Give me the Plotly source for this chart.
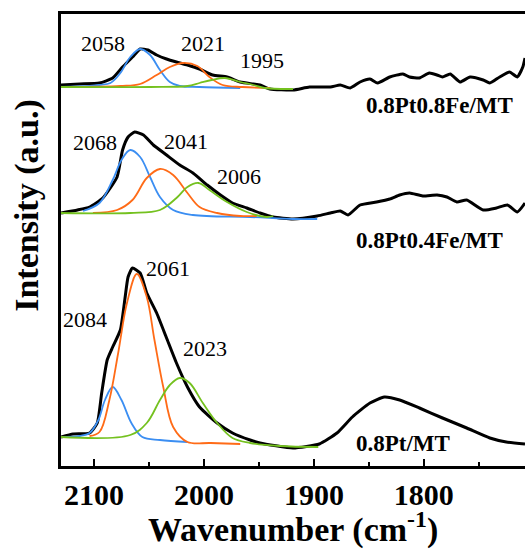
import plotly.graph_objects as go

# ---------------- data (wavenumber in cm-1, intensity in a.u.) ----------------
# 0.8Pt0.8Fe/MT (top)
top_wn = [2130, 2113, 2095, 2083, 2074, 2065, 2058, 2051, 2043, 2034, 2025, 2015, 2004, 1992, 1979,
          1967, 1955, 1949, 1940, 1919, 1904, 1885, 1876, 1867, 1858, 1849, 1842, 1831, 1819, 1813,
          1804, 1795, 1788, 1783, 1776, 1767, 1758, 1746, 1740, 1731, 1722, 1715, 1710, 1708]
top_int = [381, 382, 383, 388, 399, 409, 417, 416, 411, 407, 404, 401, 397, 391, 389,
           384, 382, 381, 377, 376, 379, 379, 381, 378, 384, 387, 383, 389, 392, 389,
           388, 393, 391, 389, 392, 384, 389, 386, 383, 389, 394, 389, 399, 408]
top_b_wn = [2130, 2104, 2095, 2085, 2076, 2067, 2058, 2049, 2040, 2031, 2022, 2004, 1967]
top_b_int = [379, 380, 381, 383, 393, 409, 417, 411, 396, 384, 380, 379, 378]
top_o_wn = [2130, 2076, 2058, 2043, 2031, 2019, 2006, 1995, 1983, 1965, 1940]
top_o_int = [379, 380, 382, 391, 399, 403, 400, 389, 381, 379, 378]
top_g_wn = [2130, 2049, 2015, 2004, 1993, 1981, 1967, 1955, 1945, 1919]
top_g_int = [379, 379, 380, 383, 386, 388, 384, 381, 378, 377]

# 0.8Pt0.4Fe/MT (middle)
mid_wn = [2130, 2115, 2104, 2092, 2079, 2074, 2069, 2063, 2055, 2046, 2034, 2022, 2010, 1997, 1985,
          1974, 1961, 1949, 1937, 1919, 1897, 1885, 1876, 1869, 1858, 1843, 1831, 1822, 1813, 1801,
          1788, 1779, 1770, 1761, 1746, 1734, 1724, 1715, 1708]
mid_int = [253, 256, 259, 268, 289, 316, 329, 334, 331, 321, 311, 301, 293, 281, 271,
           263, 258, 253, 249, 247, 250, 253, 255, 251, 261, 264, 267, 271, 273, 270,
           271, 269, 264, 266, 256, 258, 261, 254, 263]
mid_b_wn = [2110, 2095, 2083, 2075, 2067, 2058, 2049, 2040, 2028, 2010, 1958, 1919, 1897]
mid_b_int = [255, 263, 286, 306, 316, 309, 289, 269, 256, 251, 249, 247, 247]
mid_o_wn = [2101, 2079, 2065, 2052, 2040, 2028, 2015, 2004, 1988, 1967, 1952]
mid_o_int = [253, 256, 266, 288, 297, 291, 273, 259, 253, 250, 250]
mid_g_wn = [2130, 2067, 2040, 2025, 2015, 2005, 1995, 1979, 1961, 1943, 1937]
mid_g_int = [253, 253, 256, 268, 279, 283, 276, 264, 254, 249, 250]

# 0.8Pt/MT (bottom)
bot_wn = [2130, 2119, 2104, 2097, 2093, 2088, 2083, 2076, 2072, 2069, 2065, 2058, 2052, 2043, 2034,
          2025, 2015, 2004, 1988, 1974, 1958, 1949, 1919, 1895, 1879, 1865, 1849, 1836, 1822, 1804,
          1783, 1761, 1740, 1725, 1708]
bot_int = [29, 32, 33, 43, 73, 106, 119, 136, 166, 189, 198, 193, 173, 153, 128,
           103, 79, 59, 43, 33, 26, 23, 18, 22, 33, 49, 63, 69, 66, 58,
           48, 38, 28, 24, 22]
bot_b_wn = [2130, 2113, 2104, 2096, 2090, 2083, 2075, 2066, 2056, 2040, 2015]
bot_b_int = [29, 30, 33, 46, 66, 79, 66, 43, 29, 26, 24]
bot_o_wn = [2104, 2095, 2086, 2078, 2070, 2061, 2052, 2045, 2037, 2028, 2015, 1994, 1967]
bot_o_int = [30, 34, 66, 113, 163, 192, 169, 126, 79, 39, 24, 23, 22]
bot_g_wn = [2130, 2067, 2052, 2040, 2031, 2022, 2013, 2001, 1988, 1974, 1958, 1931, 1896]
bot_g_int = [29, 31, 43, 66, 81, 88, 83, 63, 43, 28, 23, 20, 19]

sample_names = ["0.8Pt0.8Fe/MT", "0.8Pt0.4Fe/MT", "0.8Pt/MT"]
peak_labels = ["2058", "2021", "1995", "2068", "2041", "2006", "2061", "2084", "2023"]
x_ticks = [2100, 2000, 1900, 1800]

# ---------------- styling ----------------
BLACK = "#000000"
BLUE = "#3b8ef2"
ORANGE = "#ff6b17"
GREEN = "#74c11f"
SERIF = "Liberation Serif, Times New Roman, serif"

fig = go.Figure()

groups = [
    (top_wn, top_int, [(top_b_wn, top_b_int, BLUE), (top_o_wn, top_o_int, ORANGE), (top_g_wn, top_g_int, GREEN)]),
    (mid_wn, mid_int, [(mid_b_wn, mid_b_int, BLUE), (mid_o_wn, mid_o_int, ORANGE), (mid_g_wn, mid_g_int, GREEN)]),
    (bot_wn, bot_int, [(bot_b_wn, bot_b_int, BLUE), (bot_o_wn, bot_o_int, ORANGE), (bot_g_wn, bot_g_int, GREEN)]),
]

for wn, inten, comps in groups:
    fig.add_trace(go.Scatter(x=wn, y=inten, mode="lines",
                             line=dict(color=BLACK, width=3, shape="spline", smoothing=0.5),
                             showlegend=False, hoverinfo="skip"))
    for cx, cy, col in comps:
        fig.add_trace(go.Scatter(x=cx, y=cy, mode="lines",
                                 line=dict(color=col, width=1.8, shape="spline", smoothing=1.0),
                                 showlegend=False, hoverinfo="skip"))

# annotation placement (data coordinates)
label_pos = [(2092, 423), (2001, 423), (1947, 406),
             (2099, 324), (2016, 325), (1968, 290),
             (2033, 198), (2108, 147), (1999, 118)]
for txt, (lx, ly) in zip(peak_labels, label_pos):
    fig.add_annotation(x=lx, y=ly, text=txt, showarrow=False, xanchor="center", yanchor="middle",
                       font=dict(family=SERIF, size=22, color=BLACK))

name_pos = [(1786, 361), (1795, 226), (1819, 23)]
for txt, (lx, ly) in zip(sample_names, name_pos):
    fig.add_annotation(x=lx, y=ly, text=txt, showarrow=False, xanchor="center", yanchor="middle",
                       font=dict(family=SERIF, size=23, color=BLACK, weight="bold"))

# axis titles
fig.add_annotation(x=0.499, y=-0.135, xref="paper", yref="paper", text="Wavenumber (cm<sup>-1</sup>)",
                   showarrow=False, xanchor="center", yanchor="middle",
                   font=dict(family=SERIF, size=34, color=BLACK, weight="bold"))
fig.add_annotation(x=-0.073, y=0.576, xref="paper", yref="paper", text="Intensity (a.u.)",
                   textangle=-90, showarrow=False, xanchor="center", yanchor="middle",
                   font=dict(family=SERIF, size=34, color=BLACK, weight="bold"))

fig.update_xaxes(range=[2130, 1708], tickvals=x_ticks, ticktext=[str(t) for t in x_ticks],
                 ticks="inside", ticklen=7, tickwidth=2, tickcolor=BLACK,
                 minor=dict(dtick=50, tick0=2050, ticks="inside", ticklen=4, tickwidth=2, tickcolor=BLACK),
                 showline=True, linewidth=2.5, linecolor=BLACK, mirror=True,
                 showgrid=False, zeroline=False,
                 tickfont=dict(family=SERIF, size=30, color=BLACK, weight="bold"))
fig.update_yaxes(range=[0, 452], showticklabels=False, ticks="",
                 showline=True, linewidth=2.5, linecolor=BLACK, mirror=False,
                 showgrid=False, zeroline=False)

fig.update_layout(width=525, height=550, autosize=False,
                  margin=dict(l=61, r=0, t=14, b=84, pad=0),
                  paper_bgcolor="white", plot_bgcolor="white")

fig.write_html("out.html", config={"responsive": False, "displayModeBar": False},
               post_script="document.body.style.margin='0';document.body.style.overflow='hidden';")
